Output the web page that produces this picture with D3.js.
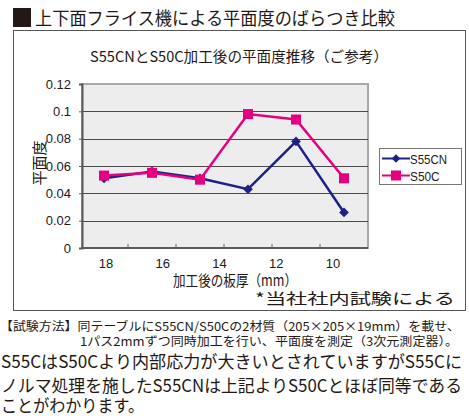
<!DOCTYPE html>
<html lang="ja">
<meta charset="utf-8">
<head>
  <title>平面度のばらつき比較</title>
  <style>
  body { margin: 0; background: #fff; }
  svg text { font-family: "Noto Sans CJK JP", "Liberation Sans", sans-serif; fill: #231815; }
  .grid line { stroke: #4a4a4a; stroke-width: 1px; shape-rendering: crispEdges; }
  .grid path { stroke-width: 0; }
  .line { fill: none; stroke-width: 2.5px; }
  </style>
</head>
<body>
<svg id="chart" width="469" height="416"></svg>
<script src="https://cdn.jsdelivr.net/npm/d3@7"></script>
<script>

// data
var passes = ["1", "2", "3", "4", "5", "6"];
var thicknessTicks = [18, 16, 14, 12, 10];
var s55cn = [0.051, 0.056, 0.051, 0.043, 0.078, 0.026];
var s50c  = [0.053, 0.055, 0.050, 0.098, 0.094, 0.051];
var yTicks = [0, 0.02, 0.04, 0.06, 0.08, 0.1, 0.12];
var seriesNames = ["S55CN", "S50C"];
var seriesColors = ["#1d2088", "#e4007f"];

var svg = d3.select("#chart");

var plot = {left: 82, right: 368, top: 84, bottom: 248};

var xScale = d3.scaleBand().domain(passes).range([plot.left - 2, plot.right]);
var xLabelScale = d3.scaleLinear().domain([18, 10]).range([106, 333]);
var yScale = d3.scaleLinear().domain([0, 0.12]).range([plot.bottom, plot.top]);

// heading
svg.append("rect").attr("x", 13).attr("y", 8).attr("width", 18).attr("height", 19).attr("fill", "#231815");
svg.append("text").attr("x", 35).attr("y", 25)
    .style("font-size", "18px")
    .attr("textLength", 360).attr("lengthAdjust", "spacingAndGlyphs")
    .text("上下面フライス機による平面度のばらつき比較");

// outer frame
svg.append("rect").attr("x", 13.5).attr("y", 30.5).attr("width", 452).attr("height", 280)
    .attr("fill", "none").attr("stroke", "#555").attr("stroke-width", 1);

svg.append("text").attr("x", 239).attr("y", 62).attr("text-anchor", "middle")
    .style("font-size", "14.5px")
    .attr("textLength", 298).attr("lengthAdjust", "spacingAndGlyphs")
    .text("S55CNとS50C加工後の平面度推移（ご参考）");

// plot background
svg.append("rect").attr("x", plot.left).attr("y", plot.top)
    .attr("width", plot.right - plot.left).attr("height", plot.bottom - plot.top)
    .attr("fill", "#ededed").attr("stroke", "#a8a8a8").attr("stroke-width", 2);

// gridlines
svg.append("g").attr("class", "grid")
    .attr("transform", "translate(" + plot.left + ",0)")
    .call(d3.axisLeft(yScale).tickValues(yTicks.slice(1, -1)).tickSize(-(plot.right - plot.left)).tickFormat(""));

// y axis
var yAxis = svg.append("g")
    .attr("transform", "translate(" + plot.left + ",0)")
    .call(d3.axisLeft(yScale).tickValues(yTicks).tickSize(3).tickPadding(8)
      .tickFormat(function(d) { return d3.format("")(+d.toFixed(2)); }));
yAxis.select(".domain").attr("stroke", "#5a5a5a").attr("stroke-width", 2);
yAxis.selectAll(".tick line").attr("stroke", "#5a5a5a");
yAxis.selectAll("text").style("font-size", "13px").style("font-family", "Liberation Sans, sans-serif").attr("fill", "#333");

// x axis (ticks at category boundaries, pointing up)
var xAxis = svg.append("g").attr("transform", "translate(0," + plot.bottom + ")");
xAxis.append("line").attr("x1", plot.left - 1).attr("x2", plot.right).attr("stroke", "#5a5a5a").attr("stroke-width", 2);
xAxis.selectAll(".xt").data(passes.slice(1)).enter().append("line")
    .attr("x1", function(d) { return xScale(d); }).attr("x2", function(d) { return xScale(d); })
    .attr("y1", 0).attr("y2", -4).attr("stroke", "#5a5a5a");
svg.append("g").selectAll("text").data(thicknessTicks).enter().append("text")
    .attr("x", function(d) { return xLabelScale(d); }).attr("y", 268)
    .attr("text-anchor", "middle").style("font-size", "13px").attr("fill", "#333")
    .style("font-family", "Liberation Sans, sans-serif")
    .text(function(d) { return d; });

// axis titles
svg.append("text").attr("transform", "translate(45,163) rotate(-90)")
    .attr("text-anchor", "middle").style("font-size", "15px").text("平面度");
svg.append("text").attr("x", 235).attr("y", 286).attr("text-anchor", "middle")
    .style("font-size", "15px").attr("textLength", 124).attr("lengthAdjust", "spacingAndGlyphs")
    .text("加工後の板厚（mm）");

var line = d3.line()
    .x(function(d, i) { return xScale(passes[i]) + xScale.bandwidth() / 2; })
    .y(function(d) { return yScale(d); });

var series = [s55cn, s50c];
series.forEach(function(vals, k) {
  svg.append("path").attr("class", "line").attr("d", line(vals)).attr("stroke", seriesColors[k]);
});

// markers
svg.append("g").selectAll("path").data(s55cn).enter().append("path")
    .attr("d", d3.symbol().type(d3.symbolDiamond2).size(60))
    .attr("transform", function(d, i) { return "translate(" + (xScale(passes[i]) + xScale.bandwidth() / 2) + "," + yScale(d) + ")"; })
    .attr("fill", seriesColors[0]);
svg.append("g").selectAll("rect").data(s50c).enter().append("rect")
    .attr("x", function(d, i) { return xScale(passes[i]) + xScale.bandwidth() / 2 - 5; })
    .attr("y", function(d) { return yScale(d) - 5; })
    .attr("width", 10).attr("height", 10).attr("fill", seriesColors[1]);

// legend
var legend = svg.append("g").attr("transform", "translate(379,148)");
legend.append("rect").attr("x", 0.5).attr("y", 0.5).attr("width", 82).attr("height", 36)
    .attr("fill", "#fff").attr("stroke", "#777");
seriesNames.forEach(function(name, k) {
  var y = 10.5 + k * 17;
  legend.append("line").attr("x1", 3).attr("x2", 31).attr("y1", y).attr("y2", y)
      .attr("stroke", seriesColors[k]).attr("stroke-width", 2);
  if (k === 0) {
    legend.append("path").attr("d", d3.symbol().type(d3.symbolDiamond2).size(45))
        .attr("transform", "translate(17," + y + ")").attr("fill", seriesColors[k]);
  } else {
    legend.append("rect").attr("x", 12).attr("y", y - 5).attr("width", 10).attr("height", 10).attr("fill", seriesColors[k]);
  }
  legend.append("text").attr("x", 31).attr("y", y + 5).style("font-size", "13px")
      .style("font-family", "Liberation Sans, sans-serif")
      .attr("textLength", name.length * 7.4).attr("lengthAdjust", "spacingAndGlyphs")
      .text(name);
});

svg.append("text").attr("x", 455).attr("y", 304).attr("text-anchor", "end")
    .style("font-size", "15px").attr("textLength", 200).attr("lengthAdjust", "spacingAndGlyphs")
    .text("*当社社内試験による");

// notes below the chart
var notes = [
  {x: 0, y: 331, size: 12, w: 460, t: "【試験方法】同テーブルにS55CN/S50Cの2材質（205×205×19mm）を載せ、"},
  {x: 80, y: 346, size: 12, w: 378, t: "1パス2mmずつ同時加工を行い、平面度を測定（3次元測定器）。"},
  {x: 1, y: 368, size: 17.5, w: 461, t: "S55CはS50Cより内部応力が大きいとされていますがS55Cに"},
  {x: 1, y: 392, size: 17.5, w: 461, t: "ノルマ処理を施したS55CNは上記よりS50Cとほぼ同等である"},
  {x: 1, y: 412, size: 17.5, w: 143, t: "ことがわかります。"}
];
svg.append("g").selectAll("text").data(notes).enter().append("text")
    .attr("x", function(d) { return d.x; }).attr("y", function(d) { return d.y; })
    .style("font-size", function(d) { return d.size + "px"; })
    .attr("textLength", function(d) { return d.w; }).attr("lengthAdjust", "spacingAndGlyphs")
    .text(function(d) { return d.t; });

</script>
</body>
</html>
